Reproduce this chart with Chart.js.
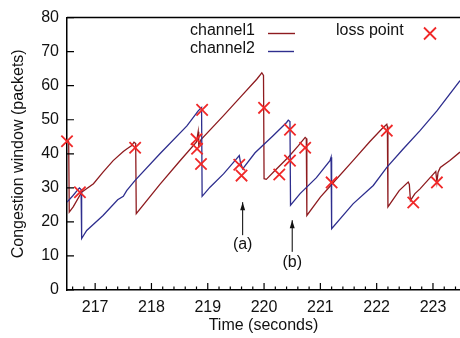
<!DOCTYPE html>
<html>
<head>
<meta charset="utf-8">
<script src="https://cdn.jsdelivr.net/npm/chart.js@4/dist/chart.umd.min.js"></script>
<style>
  html, body { margin: 0; padding: 0; background: #fff; }
  canvas { display: block; }
</style>
</head>
<body>
<canvas id="cwnd" width="460" height="338"></canvas>
<script>
// channel1 congestion window (time in s, window in packets)
const ch1Time = [216.50, 216.53, 216.54, 216.61, 216.76, 216.97, 217.14, 217.32, 217.50, 217.56, 217.65, 217.69, 217.72,
                 217.73, 218.15, 218.50, 218.80, 218.83, 218.84, 218.88, 219.28, 219.60, 219.87, 219.96, 219.99,
                 220.00, 220.04, 220.19, 220.43, 220.61, 220.73, 220.75,
                 220.76, 221.00, 221.20, 221.58, 221.88, 222.09, 222.18, 222.19,
                 222.20, 222.40, 222.56, 222.58, 222.60, 222.68, 222.77, 223.01, 223.05, 223.07, 223.09, 223.13, 223.30, 223.48];
const ch1Cwnd = [44.0, 43.5, 22.9, 24.4, 28.7, 31.2, 34.6, 38.0, 40.7, 41.4, 42.4, 43.4, 43.0,
                 22.4, 31.0, 37.8, 43.5, 46.5, 42.5, 44.2, 51.2, 57.0, 61.9, 63.8, 63.0,
                 32.7, 32.5, 35.0, 39.0, 42.4, 44.8, 44.5,
                 21.9, 27.3, 31.0, 38.0, 43.6, 47.3, 48.7, 48.0,
                 24.4, 29.2, 31.7, 31.0, 26.3, 28.3, 29.7, 34.1, 34.8, 31.7, 34.5, 36.0, 38.0, 40.5];

// channel2 congestion window
const ch2Time = [216.50, 216.60, 216.72, 216.75, 216.76, 216.85, 217.14, 217.40, 217.50, 217.56, 217.71, 218.15, 218.63, 218.83, 218.89,
                 218.90, 219.04, 219.28, 219.51, 219.56, 219.58, 219.62, 219.84, 220.16, 220.40, 220.43, 220.46,
                 220.47, 220.64, 220.93, 221.17, 221.19,
                 221.20, 221.58, 221.94, 222.18, 222.47, 222.77, 223.07, 223.48];
const ch2Cwnd = [25.8, 27.6, 30.0, 29.5, 15.1, 17.5, 21.9, 26.5, 27.5, 29.2, 32.2, 40.0, 48.2, 52.6, 53.6,
                 27.5, 30.2, 34.1, 38.5, 39.5, 37.5, 35.6, 40.3, 45.3, 49.2, 49.9, 49.5,
                 24.9, 28.3, 33.0, 38.0, 39.0,
                 18.0, 25.3, 30.7, 36.0, 41.4, 46.8, 52.6, 61.5];

// loss points
const lossTime = [216.50, 216.73, 217.71, 218.80, 218.81, 218.88, 218.90, 219.56, 219.60, 220.00, 220.27, 220.46, 220.46,
                  220.73, 221.20, 222.18, 222.65, 223.07];
const lossCwnd = [43.7, 28.7, 41.8, 44.3, 41.5, 37.0, 52.9, 36.8, 33.6, 53.5, 33.9, 47.1, 38.0,
                  41.8, 31.6, 46.8, 25.7, 31.6];

const xTicks = [217, 218, 219, 220, 221, 222, 223];
const yTicks = [0, 10, 20, 30, 40, 50, 60, 70, 80];

const RED = '#8e1b1f';
const BLUE = '#2e2e8e';
const LOSS = '#f02828';
const FONT = 'Liberation Sans, Arial, Helvetica, sans-serif';

const pairs = (ts, vs) => ts.map((t, i) => ({x: t, y: vs[i]}));

// arrows with labels, in data units
const notes = [
    {label: '(a)', t: 219.62, tip: 25.8, tail: 16.1, at: 13.2},
    {label: '(b)', t: 220.50, tip: 20.5, tail: 11.2, at: 8.0}
];

const decor = {
    id: 'decor',
    afterDraw(chart) {
        const {ctx, chartArea: a, scales: {x, y}} = chart;
        ctx.save();
        ctx.strokeStyle = '#000';
        ctx.lineWidth = 1.5;

        // top frame line
        ctx.beginPath();
        ctx.moveTo(a.left, a.top);
        ctx.lineTo(a.right, a.top);
        ctx.stroke();

        // inward ticks
        ctx.lineWidth = 1.2;
        ctx.beginPath();
        for (let v = 216.6; v < x.max; v += 0.2) {
            const px = x.getPixelForValue(v);
            const major = Math.abs(v - Math.round(v)) < 1e-6;
            ctx.moveTo(px, a.bottom);
            ctx.lineTo(px, a.bottom - (major ? 7 : 3.5));
        }
        for (const v of yTicks) {
            const py = y.getPixelForValue(v);
            ctx.moveTo(a.left, py);
            ctx.lineTo(a.left + 7, py);
        }
        ctx.stroke();

        // legend
        ctx.font = '16px ' + FONT;
        ctx.fillStyle = '#111';
        ctx.textBaseline = 'middle';
        ctx.textAlign = 'left';
        ctx.fillText('channel1', 190, 31);
        ctx.fillText('channel2', 190, 49);
        ctx.fillText('loss point', 336, 31);
        ctx.lineWidth = 1.4;
        ctx.strokeStyle = RED;
        ctx.beginPath(); ctx.moveTo(268, 33.5); ctx.lineTo(295, 33.5); ctx.stroke();
        ctx.strokeStyle = BLUE;
        ctx.beginPath(); ctx.moveTo(268, 51.5); ctx.lineTo(294, 51.5); ctx.stroke();
        ctx.strokeStyle = LOSS;
        ctx.lineWidth = 1.8;
        ctx.beginPath();
        ctx.moveTo(424, 27.5); ctx.lineTo(436, 39.5);
        ctx.moveTo(436, 27.5); ctx.lineTo(424, 39.5);
        ctx.stroke();

        // arrows
        ctx.strokeStyle = '#000';
        ctx.fillStyle = '#111';
        ctx.lineWidth = 1;
        ctx.textAlign = 'center';
        for (const n of notes) {
            const px = x.getPixelForValue(n.t);
            const tip = y.getPixelForValue(n.tip);
            ctx.beginPath();
            ctx.moveTo(px, tip);
            ctx.lineTo(px, y.getPixelForValue(n.tail));
            ctx.stroke();
            ctx.beginPath();
            ctx.moveTo(px, tip);
            ctx.lineTo(px - 2.5, tip + 8);
            ctx.lineTo(px + 2.5, tip + 8);
            ctx.closePath();
            ctx.fill();
            ctx.fillText(n.label, px, y.getPixelForValue(n.at));
        }
        ctx.restore();
    }
};

new Chart(document.getElementById('cwnd'), {
    type: 'scatter',
    data: {
        datasets: [
            {label: 'loss point', data: pairs(lossTime, lossCwnd), order: 0, clip: false,
             pointStyle: 'crossRot', radius: 8, borderWidth: 1.8, borderColor: LOSS, backgroundColor: LOSS},
            {label: 'channel2', data: pairs(ch2Time, ch2Cwnd), order: 1, showLine: true,
             borderColor: BLUE, borderWidth: 1.3, pointRadius: 0, tension: 0},
            {label: 'channel1', data: pairs(ch1Time, ch1Cwnd), order: 2, showLine: true,
             borderColor: RED, borderWidth: 1.3, pointRadius: 0, tension: 0}
        ]
    },
    options: {
        responsive: false,
        animation: false,
        devicePixelRatio: 1,
        layout: {autoPadding: false, padding: {top: 17, right: 0, bottom: 0, left: 0}},
        plugins: {legend: {display: false}, tooltip: {enabled: false}},
        scales: {
            x: {
                type: 'linear', min: 216.5, max: 223.48,
                afterBuildTicks: s => { s.ticks = xTicks.map(v => ({value: v})); },
                afterFit: s => { s.height = 48; },
                grid: {display: true, drawOnChartArea: false, drawTicks: false, color: 'rgba(0,0,0,0)'},
                border: {display: true, color: '#000', width: 1.5},
                ticks: {color: '#111', padding: 8, maxRotation: 0, font: {family: FONT, size: 16}},
                title: {display: true, text: 'Time (seconds)', color: '#111', padding: {top: 0, bottom: 3},
                        font: {family: FONT, size: 16}}
            },
            y: {
                min: 0, max: 80,
                afterBuildTicks: s => { s.ticks = yTicks.map(v => ({value: v})); },
                afterFit: s => { s.width = 67; },
                grid: {display: true, drawOnChartArea: false, drawTicks: false, color: 'rgba(0,0,0,0)'},
                border: {display: true, color: '#000', width: 1.5},
                ticks: {color: '#111', padding: 8, font: {family: FONT, size: 16}},
                title: {display: true, text: 'Congestion window (packets)', color: '#111', padding: {top: 9, bottom: 0},
                        font: {family: FONT, size: 16}}
            }
        }
    },
    plugins: [decor]
});
</script>
</body>
</html>
